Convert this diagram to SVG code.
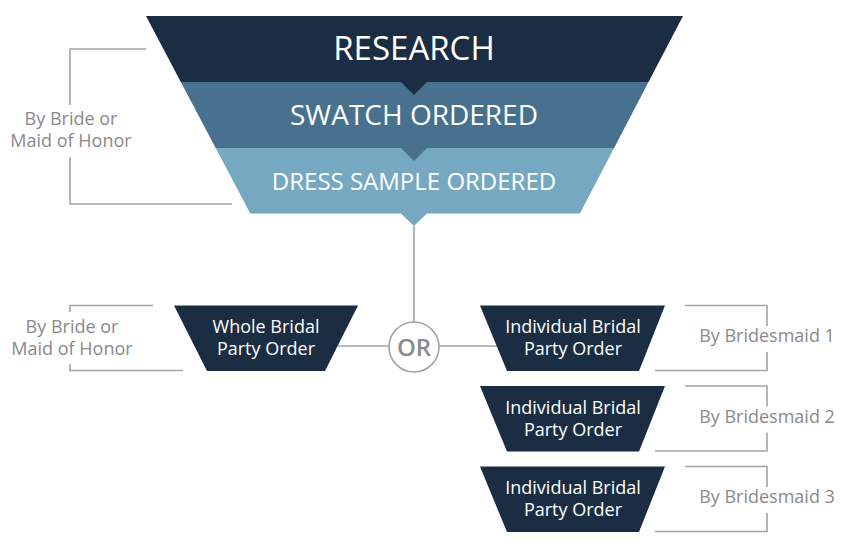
<svg xmlns="http://www.w3.org/2000/svg" width="850" height="549" viewBox="0 0 850 549">
<style>
.t{font-family:"Open Sans","Liberation Sans",sans-serif;text-anchor:middle}
.w{fill:#ffffff}
.g{fill:#8a8a8a;font-size:18px}
.bx{fill:#1b2d43}
.ln{stroke:#a3a3a3;stroke-width:1.6;fill:none}
.bt{font-size:18px}
</style>
<rect width="850" height="549" fill="#ffffff"/>
<g id="research">
<polygon points="146,16 683,16 648.5,82 180.8,82" fill="#1b2d43"/>
<text class="t w" x="414" y="60" font-size="33">RESEARCH</text>
</g>
<g id="swatch">
<polygon points="180.8,82 648.5,82 614.1,148 215.7,148" fill="#47718f"/>
<polygon points="400.5,81.5 427.5,81.5 414,95" fill="#1b2d43"/>
<text class="t w" x="414" y="125" font-size="28">SWATCH ORDERED</text>
</g>
<g id="dress">
<polygon points="215.7,148 614.1,148 579.9,213.5 250.3,213.5" fill="#76a8c2"/>
<polygon points="400.5,147.5 427.5,147.5 414,161" fill="#47718f"/>
<polygon points="400.5,213 427.5,213 414,226" fill="#76a8c2"/>
<text class="t w" x="414" y="190" font-size="24">DRESS SAMPLE ORDERED</text>
</g>
<g id="connectors">
<path class="ln" d="M414,226 V322"/>
<path class="ln" d="M338,346 H389"/>
<path class="ln" d="M439,346 H497"/>
<path class="ln" d="M146,49 H70 V105 M70,157 V204 H232"/>
<path class="ln" d="M153,305.5 H70 V312 M70,364 V370.5 H183"/>
<path class="ln" d="M685,305.5 H767 V326 M767,352 V370.5 H655"/>
<path class="ln" d="M685,386 H767 V406.5 M767,432.5 V451 H655"/>
<path class="ln" d="M685,466.5 H767 V487 M767,513 V531.5 H655"/>
</g>
<g id="label-top-left">
<text class="t g" x="71" y="125">By Bride or</text>
<text class="t g" x="71" y="147">Maid of Honor</text>
</g>
<g id="or">
<circle cx="414" cy="347" r="25" class="ln"/>
<text class="t" x="414" y="356" font-size="24" font-weight="600" fill="#8a8a8a">OR</text>
</g>
<g id="whole">
<polygon class="bx" points="174,305.5 358,305.5 325,371 207,371"/>
<text class="t w bt" x="266" y="333">Whole Bridal</text>
<text class="t w bt" x="266" y="355">Party Order</text>
</g>
<g id="label-whole">
<text class="t g" x="72" y="333">By Bride or</text>
<text class="t g" x="72" y="355">Maid of Honor</text>
</g>
<g id="individual1">
<polygon class="bx" points="480,305.5 665,305.5 639,371 507,371"/>
<text class="t w bt" x="573" y="333">Individual Bridal</text>
<text class="t w bt" x="573" y="355">Party Order</text>
</g>
<g id="individual2">
<polygon class="bx" points="480,386 665,386 639,451.5 507,451.5"/>
<text class="t w bt" x="573" y="413.5">Individual Bridal</text>
<text class="t w bt" x="573" y="435.5">Party Order</text>
</g>
<g id="individual3">
<polygon class="bx" points="480,466.5 665,466.5 639,532 507,532"/>
<text class="t w bt" x="573" y="494">Individual Bridal</text>
<text class="t w bt" x="573" y="516">Party Order</text>
</g>
<g id="labels-bridesmaids">
<text class="t g" x="767" y="342">By Bridesmaid 1</text>
<text class="t g" x="767" y="422.5">By Bridesmaid 2</text>
<text class="t g" x="767" y="503">By Bridesmaid 3</text>
</g>
</svg>
